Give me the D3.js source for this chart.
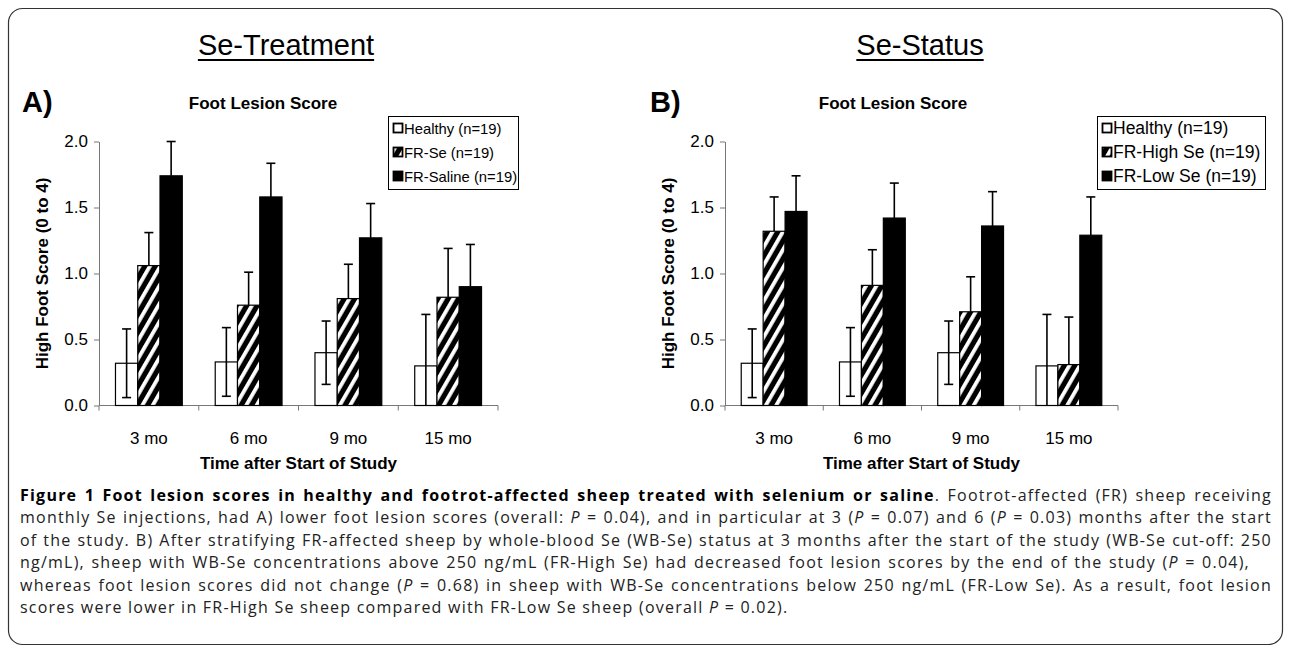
<!DOCTYPE html>
<html>
<head>
<meta charset="utf-8">
<script src="https://cdn.jsdelivr.net/npm/d3@7"></script>
<style>
  body { margin: 0; background: #fff; }
  svg { display: block; }
  .ar { font-family: "Liberation Sans", Arial, Helvetica, sans-serif; }
</style>
</head>
<body>
<script>
// categories and series values
const categories = ['3 mo', '6 mo', '9 mo', '15 mo'];
const yTicks = [0, 0.5, 1.0, 1.5, 2.0];

const healthy = [0.32, 0.33, 0.40, 0.30];
const healthyErr = [0.26, 0.26, 0.24, 0.39];

const frSe = [1.06, 0.76, 0.81, 0.82];
const frSeErr = [0.25, 0.25, 0.26, 0.37];
const frSaline = [1.74, 1.58, 1.27, 0.90];
const frSalineErr = [0.26, 0.255, 0.26, 0.32];

const frHighSe = [1.32, 0.91, 0.71, 0.31];
const frHighSeErr = [0.26, 0.27, 0.265, 0.36];
const frLowSe = [1.47, 1.42, 1.36, 1.29];
const frLowSeErr = [0.27, 0.265, 0.26, 0.29];

const legendA = ['Healthy (n=19)', 'FR-Se (n=19)', 'FR-Saline (n=19)'];
const legendB = ['Healthy (n=19)', 'FR-High Se (n=19)', 'FR-Low Se (n=19)'];

const W = 1290, H = 653;
const svg = d3.select('body').append('svg').attr('width', W).attr('height', H);

// hatch pattern: white diagonal stripes on black
const defs = svg.append('defs');
const pat = defs.append('pattern')
    .attr('id', 'hatch')
    .attr('patternUnits', 'userSpaceOnUse')
    .attr('width', 9).attr('height', 9)
    .attr('patternTransform', 'rotate(30)');
pat.append('rect').attr('width', 9).attr('height', 9).attr('fill', '#000');
pat.append('rect').attr('x', 0).attr('width', 3.8).attr('height', 9).attr('fill', '#fff');

// outer frame
svg.append('rect')
    .attr('x', 8.5).attr('y', 8.5)
    .attr('width', 1274).attr('height', 636)
    .attr('rx', 14)
    .attr('fill', 'none').attr('stroke', '#333').attr('stroke-width', 1.2);

const fills = ['#fff', 'url(#hatch)', '#000'];

function txt(sel, size, weight) {
    return sel.attr('class', 'ar')
        .attr('font-size', size)
        .attr('font-weight', weight || 'normal')
        .attr('fill', '#000');
}

function drawPanel(p) {
    const g = svg.append('g');
    const x0 = d3.scaleBand().domain(categories).range([p.left, p.right]).paddingInner(0).paddingOuter(0);
    const x1 = d3.scaleBand().domain([0, 1, 2]).range([0, x0.bandwidth()]).paddingOuter(0.74).paddingInner(0);
    const y = d3.scaleLinear().domain([0, 2]).range([p.bottom, p.top]);

    // panel heading, underlined
    const head = txt(g.append('text'), 29)
        .attr('x', p.headX).attr('y', 55)
        .attr('text-anchor', 'middle')
        .text(p.heading);
    const hb = head.node().getBBox();
    g.append('line')
        .attr('x1', hb.x).attr('x2', hb.x + hb.width)
        .attr('y1', 60).attr('y2', 60)
        .attr('stroke', '#000').attr('stroke-width', 2);

    txt(g.append('text'), 29, 'bold')
        .attr('x', p.letterX).attr('y', 112)
        .text(p.letter);

    txt(g.append('text'), 17, 'bold')
        .attr('x', p.titleX).attr('y', 109)
        .attr('text-anchor', 'middle')
        .text('Foot Lesion Score');

    // y axis
    const yAxis = g.append('g')
        .attr('transform', 'translate(' + p.left + ',0)')
        .call(d3.axisLeft(y).tickValues(yTicks).tickFormat(d3.format('.1f')).tickSize(5).tickSizeOuter(0));
    yAxis.selectAll('text').attr('class', 'ar').attr('font-size', 17).attr('fill', '#000').attr('x', -11);
    yAxis.selectAll('line, path').attr('stroke', '#777');

    // x axis with ticks between groups
    const xAxis = g.append('g').attr('transform', 'translate(0,' + p.bottom + ')');
    xAxis.append('line')
        .attr('x1', p.left).attr('x2', p.right)
        .attr('stroke', '#777');
    const bounds = categories.map(c => x0(c)).concat([p.right]);
    xAxis.selectAll('.tk').data(bounds).enter().append('line')
        .attr('x1', d => d).attr('x2', d => d)
        .attr('y1', 0).attr('y2', 5)
        .attr('stroke', '#777');
    xAxis.selectAll('.lbl').data(categories).enter().append('text')
        .attr('class', 'ar').attr('font-size', 17)
        .attr('x', d => x0(d) + x0.bandwidth() / 2)
        .attr('y', 38)
        .attr('text-anchor', 'middle')
        .text(d => d);

    txt(g.append('text'), 17, 'bold')
        .attr('x', (p.left + p.right) / 2).attr('y', 469)
        .attr('text-anchor', 'middle')
        .text('Time after Start of Study');

    txt(g.append('text'), 17, 'bold')
        .attr('transform', 'translate(' + (p.left - 51) + ',' + ((p.top + p.bottom) / 2) + ') rotate(-90)')
        .attr('text-anchor', 'middle')
        .text('High Foot Score (0 to 4)');

    // bars
    p.series.forEach((vals, si) => {
        const bars = g.append('g');
        bars.selectAll('rect').data(vals).enter().append('rect')
            .attr('x', (d, i) => x0(categories[i]) + x1(si))
            .attr('y', d => y(d))
            .attr('width', x1.bandwidth())
            .attr('height', d => p.bottom - y(d))
            .attr('fill', fills[si])
            .attr('stroke', '#000').attr('stroke-width', 1.2);
    });

    // error bars (healthy both ways, FR groups upward)
    p.series.forEach((vals, si) => {
        const errs = p.errors[si];
        const eg = g.append('g').attr('stroke', '#000').attr('stroke-width', 1.6);
        vals.forEach((v, i) => {
            const cx = x0(categories[i]) + x1(si) + x1.bandwidth() / 2;
            const hi = v + errs[i];
            const lo = si === 0 ? Math.max(0, v - errs[i]) : v;
            eg.append('line').attr('x1', cx).attr('x2', cx).attr('y1', y(lo)).attr('y2', y(hi));
            eg.append('line').attr('x1', cx - 4.5).attr('x2', cx + 4.5).attr('y1', y(hi)).attr('y2', y(hi));
            if (si === 0 && v - errs[i] > 0) {
                eg.append('line').attr('x1', cx - 4.5).attr('x2', cx + 4.5).attr('y1', y(lo)).attr('y2', y(lo));
            }
        });
    });

    // legend
    const lg = g.append('g');
    lg.append('rect')
        .attr('x', p.legX + 0.5).attr('y', 116.5)
        .attr('width', p.legW).attr('height', 73)
        .attr('fill', '#fff').attr('stroke', '#000').attr('stroke-width', 1);
    p.legend.forEach((name, i) => {
        const ry = 128 + i * 24;
        lg.append('rect')
            .attr('x', p.legX + 5.5).attr('y', ry - 4.5)
            .attr('width', 9).attr('height', 9)
            .attr('fill', fills[i]).attr('stroke', '#000').attr('stroke-width', 1.8);
        txt(lg.append('text'), p.legFont)
            .attr('x', p.legX + 16).attr('y', ry + 5.5)
            .text(name);
    });
}

drawPanel({
    heading: 'Se-Treatment', headX: 286, letter: 'A)', letterX: 22, titleX: 263,
    left: 99, right: 498, top: 141.5, bottom: 405.5,
    series: [healthy, frSe, frSaline],
    errors: [healthyErr, frSeErr, frSalineErr],
    legend: legendA, legX: 388, legW: 130, legFont: 14.8
});

drawPanel({
    heading: 'Se-Status', headX: 920, letter: 'B)', letterX: 650, titleX: 893,
    left: 725, right: 1118, top: 141.5, bottom: 405.5,
    series: [healthy, frHighSe, frLowSe],
    errors: [healthyErr, frHighSeErr, frLowSeErr],
    legend: legendB, legX: 1097, legW: 168, legFont: 17.5
});

// caption, justified lines
const caption = [
    [['Figure 1 Foot lesion scores in healthy and footrot-affected sheep treated with selenium or saline', 'b'], ['. Footrot-affected (FR) sheep receiving', 'n']],
    [['monthly Se injections, had A) lower foot lesion scores (overall: ', 'n'], ['P', 'i'], [' = 0.04), and in particular at 3 (', 'n'], ['P', 'i'], [' = 0.07) and 6 (', 'n'], ['P', 'i'], [' = 0.03) months after the start', 'n']],
    [['of the study. B) After stratifying FR-affected sheep by whole-blood Se (WB-Se) status at 3 months after the start of the study (WB-Se cut-off: 250', 'n']],
    [['ng/mL), sheep with WB-Se concentrations above 250 ng/mL (FR-High Se) had decreased foot lesion scores by the end of the study (', 'n'], ['P', 'i'], [' = 0.04),', 'n']],
    [['whereas foot lesion scores did not change (', 'n'], ['P', 'i'], [' = 0.68) in sheep with WB-Se concentrations below 250 ng/mL (FR-Low Se). As a result, foot lesion', 'n']],
    [['scores were lower in FR-High Se sheep compared with FR-Low Se sheep (overall ', 'n'], ['P', 'i'], [' = 0.02).', 'n']]
];
const capLeft = 20, capRight = 1272, capSize = 16;
const capNodes = caption.map((line, li) => {
    const t = svg.append('text')
        .attr('x', capLeft).attr('y', 501 + li * 22.4)
        .attr('font-family', '"Open Sans", sans-serif')
        .attr('font-size', capSize)
        .attr('fill', '#222');
    line.forEach(seg => {
        const ts = t.append('tspan').text(seg[0]);
        if (seg[1] === 'b') ts.attr('font-weight', 'bold').attr('fill', '#000');
        if (seg[1] === 'i') ts.attr('font-style', 'italic');
    });
    return t;
});
// letter-spacing so the widest line just fits, then justify with word spacing
const chars = caption.map(line => line.map(s => s[0]).join('').length);
const widestIdx = d3.maxIndex(capNodes.slice(0, -1), t => t.node().getComputedTextLength());
const ls = ((capRight - capLeft) * 0.99 - capNodes[widestIdx].node().getComputedTextLength()) / chars[widestIdx];
capNodes.forEach((t, li) => {
    t.attr('letter-spacing', ls);
    if (li < capNodes.length - 1) {
        const natural = t.node().getComputedTextLength();
        const spaces = caption[li].map(s => s[0]).join('').split(' ').length - 1;
        const target = li === 3 ? capRight - capLeft - 22 : capRight - capLeft;
        t.attr('word-spacing', Math.max(0, (target - natural) / spaces));
    }
});
</script>
</body>
</html>
